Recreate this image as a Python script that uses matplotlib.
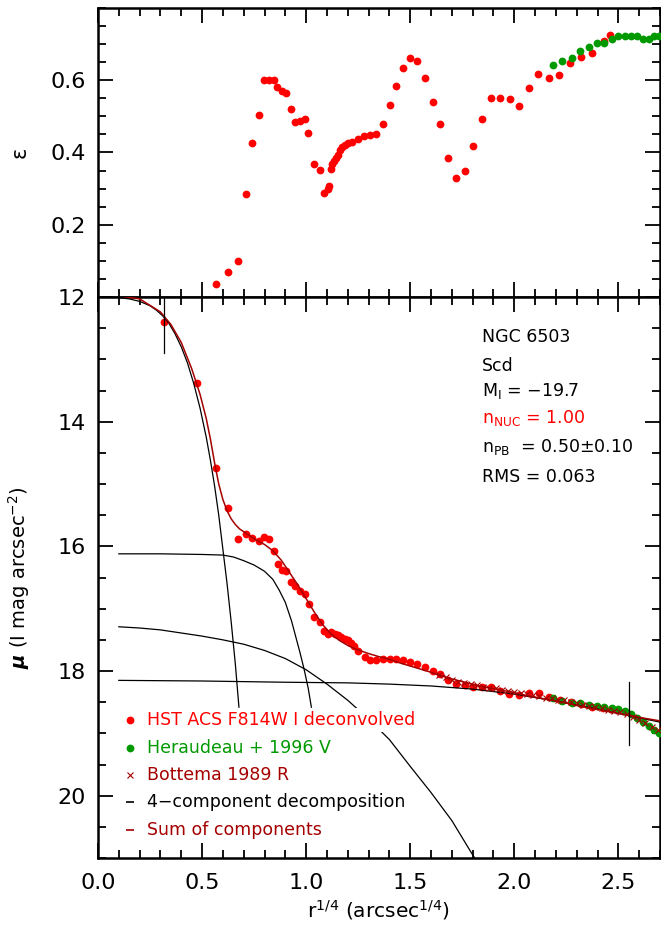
import matplotlib
matplotlib.use('Agg')
import matplotlib.pyplot as plt
from matplotlib.ticker import MultipleLocator, FixedLocator

plt.rcParams['font.family'] = ['DejaVu Sans']
plt.rcParams['mathtext.fontset'] = 'dejavusans'

# ---------------- data ----------------
# Ellipticity (top panel)
eps_hst_x = [0.565, 0.625, 0.673, 0.709, 0.742, 0.773, 0.797, 0.822, 0.845, 0.862,
             0.883, 0.904, 0.926, 0.947, 0.969, 0.993, 1.009, 1.038, 1.065, 1.086,
             1.104, 1.108, 1.118, 1.126, 1.134, 1.145, 1.153, 1.161, 1.172, 1.185,
             1.201, 1.220, 1.249, 1.276, 1.308, 1.337, 1.369, 1.401, 1.432, 1.465,
             1.499, 1.534, 1.571, 1.607, 1.644, 1.683, 1.721, 1.763, 1.803, 1.846,
             1.887, 1.932, 1.977, 2.023, 2.070, 2.116, 2.166, 2.217, 2.268, 2.321,
             2.374, 2.430, 2.460]
eps_hst = [0.036, 0.069, 0.100, 0.286, 0.425, 0.505, 0.600, 0.600, 0.600, 0.582,
           0.571, 0.565, 0.519, 0.485, 0.488, 0.492, 0.454, 0.368, 0.352, 0.289,
           0.300, 0.306, 0.353, 0.367, 0.376, 0.385, 0.394, 0.406, 0.416, 0.422,
           0.425, 0.429, 0.436, 0.447, 0.448, 0.450, 0.478, 0.532, 0.585, 0.635,
           0.662, 0.654, 0.606, 0.541, 0.480, 0.384, 0.330, 0.349, 0.418, 0.494,
           0.552, 0.551, 0.549, 0.528, 0.578, 0.617, 0.606, 0.615, 0.648, 0.663,
           0.676, 0.708, 0.726]
eps_her_x = [2.187, 2.231, 2.278, 2.318, 2.358, 2.396, 2.433, 2.468, 2.498, 2.530,
             2.561, 2.590, 2.620, 2.646, 2.671, 2.693]
eps_her = [0.641, 0.652, 0.662, 0.682, 0.692, 0.703, 0.702, 0.713, 0.722, 0.722,
           0.722, 0.722, 0.713, 0.713, 0.722, 0.722]

# Surface brightness (bottom panel)
mu_hst_x = [0.318, 0.477, 0.565, 0.625, 0.673, 0.709, 0.742, 0.771, 0.797, 0.822,
            0.845, 0.865, 0.886, 0.905, 0.926, 0.947, 0.969, 0.993, 1.012, 1.040,
            1.067, 1.088, 1.105, 1.121, 1.137, 1.153, 1.169, 1.185, 1.201, 1.217,
            1.230, 1.249, 1.281, 1.305, 1.337, 1.369, 1.401, 1.433, 1.465, 1.499,
            1.534, 1.571, 1.607, 1.644, 1.681, 1.721, 1.761, 1.801, 1.843, 1.886,
            1.930, 1.975, 2.022, 2.069, 2.117, 2.166, 2.218, 2.270, 2.321, 2.374,
            2.428, 2.463]
mu_hst = [12.40, 13.38, 14.74, 15.39, 15.88, 15.80, 15.87, 15.92, 15.85, 15.89,
          16.07, 16.28, 16.38, 16.40, 16.57, 16.64, 16.72, 16.77, 16.92, 17.13,
          17.22, 17.35, 17.40, 17.38, 17.41, 17.43, 17.45, 17.48, 17.51, 17.55,
          17.60, 17.68, 17.78, 17.83, 17.83, 17.81, 17.80, 17.81, 17.82, 17.85,
          17.89, 17.94, 18.00, 18.05, 18.15, 18.21, 18.23, 18.25, 18.25, 18.25,
          18.32, 18.37, 18.39, 18.35, 18.36, 18.42, 18.46, 18.49, 18.53, 18.58,
          18.59, 18.61]
mu_her_x = [2.187, 2.231, 2.278, 2.318, 2.358, 2.396, 2.433, 2.468, 2.498, 2.530,
            2.561, 2.590, 2.620, 2.646, 2.671, 2.693]
mu_her = [18.44, 18.48, 18.51, 18.52, 18.54, 18.56, 18.58, 18.60, 18.61, 18.64,
          18.69, 18.76, 18.82, 18.88, 18.94, 18.99]
mu_bot_x = [1.64, 1.67, 1.70, 1.73, 1.76, 1.79, 1.82, 1.85, 1.88, 1.91, 1.94, 1.97,
            2.00, 2.03, 2.06, 2.09, 2.12, 2.15, 2.18, 2.21, 2.24, 2.27, 2.30, 2.33,
            2.36, 2.39, 2.42, 2.45, 2.48, 2.51, 2.54, 2.57, 2.60, 2.63, 2.66, 2.69]
mu_bot = [18.06, 18.10, 18.14, 18.17, 18.19, 18.21, 18.23, 18.25, 18.27, 18.28,
          18.30, 18.32, 18.34, 18.35, 18.37, 18.39, 18.40, 18.43, 18.44, 18.46,
          18.47, 18.49, 18.52, 18.54, 18.56, 18.58, 18.60, 18.62, 18.64, 18.66,
          18.69, 18.73, 18.78, 18.83, 18.89, 18.95]

# Model components
nuc_x = [0.10, 0.15, 0.20, 0.25, 0.28, 0.31, 0.34, 0.37, 0.40, 0.43, 0.46, 0.49,
         0.52, 0.54, 0.56, 0.58, 0.60, 0.62, 0.64, 0.66, 0.677]
nuc_mu = [12.01, 12.03, 12.07, 12.14, 12.21, 12.30, 12.42, 12.59, 12.80, 13.06,
          13.39, 13.78, 14.25, 14.62, 15.03, 15.50, 16.05, 16.60, 17.22, 17.90, 18.58]
bar_x = [0.10, 0.30, 0.50, 0.60, 0.65, 0.70, 0.75, 0.80, 0.84, 0.87, 0.90, 0.93,
         0.95, 0.97, 0.99, 1.01, 1.025]
bar_mu = [16.12, 16.12, 16.13, 16.14, 16.17, 16.23, 16.30, 16.40, 16.53, 16.70,
          16.90, 17.20, 17.45, 17.70, 17.97, 18.28, 18.58]
pb_x = [0.10, 0.20, 0.30, 0.40, 0.50, 0.60, 0.70, 0.80, 0.90, 1.00, 1.10, 1.20,
        1.30, 1.40, 1.50, 1.60, 1.70, 1.80, 1.82]
pb_mu = [17.29, 17.31, 17.34, 17.39, 17.44, 17.50, 17.57, 17.67, 17.80, 17.98,
         18.21, 18.47, 18.77, 19.10, 19.53, 19.95, 20.40, 20.95, 21.05]
disk_x = [0.10, 0.50, 0.90, 1.20, 1.40, 1.60, 1.80, 2.00, 2.20, 2.40, 2.60, 2.70]
disk_mu = [18.15, 18.16, 18.18, 18.19, 18.21, 18.24, 18.29, 18.37, 18.48, 18.61,
           18.75, 18.82]
sum_x = [0.10, 0.20, 0.30, 0.35, 0.40, 0.45, 0.49, 0.52, 0.54, 0.56, 0.58, 0.60,
         0.62, 0.64, 0.66, 0.68, 0.72, 0.76, 0.80, 0.84, 0.88, 0.92, 0.96, 1.00,
         1.04, 1.08, 1.12, 1.16, 1.20, 1.24, 1.30, 1.35, 1.40, 1.45, 1.50, 1.55,
         1.60, 1.67, 1.75, 1.83, 1.91, 1.99, 2.07, 2.15, 2.23, 2.31, 2.39, 2.47,
         2.55, 2.63, 2.70]
sum_mu = [11.98, 12.03, 12.24, 12.44, 12.73, 13.15, 13.56, 13.95, 14.28, 14.66,
          15.00, 15.25, 15.43, 15.56, 15.65, 15.72, 15.81, 15.90, 15.97, 16.07,
          16.22, 16.42, 16.62, 16.84, 17.06, 17.26, 17.41, 17.51, 17.59, 17.65,
          17.72, 17.77, 17.81, 17.87, 17.92, 17.97, 18.02, 18.10, 18.17, 18.24,
          18.29, 18.34, 18.40, 18.45, 18.50, 18.56, 18.61, 18.66, 18.71, 18.76, 18.80]
fit_x = [0.318, 2.549]
fit_mu = [12.40, 18.68]

legend_labels = ['HST ACS F814W I deconvolved', 'Heraudeau + 1996 V',
                 'Bottema 1989 R', '4\u2212component decomposition',
                 'Sum of components']
info_lines = ['NGC 6503', 'Scd', 'M$_{\\rm I}$ = \u221219.7',
              'n$_{\\rm NUC}$ = 1.00', 'n$_{\\rm PB}$  = 0.50\u00b10.10',
              'RMS = 0.063']

RED = '#ff0000'
GREEN = '#009900'
DRED = '#a50000'

fig = plt.figure(figsize=(6.61, 9.27), dpi=100)
ax1 = fig.add_axes([0.1483, 0.6796, 0.8502, 0.3118])
ax2 = fig.add_axes([0.1483, 0.0744, 0.8502, 0.6052])

ms = 5.6
# ---- top panel ----
ax1.plot(eps_hst_x, eps_hst, 'o', color=RED, ms=ms, mew=0, zorder=3)
ax1.plot(eps_her_x, eps_her, 'o', color=GREEN, ms=ms, mew=0, zorder=3)
ax1.set_xlim(0, 2.7)
ax1.set_ylim(0, 0.8)
ax1.yaxis.set_major_locator(FixedLocator([0.2, 0.4, 0.6]))
ax1.yaxis.set_minor_locator(MultipleLocator(0.05))
ax1.set_ylabel('\u03b5', fontsize=15)
ax1.yaxis.set_label_coords(-0.122, 0.5)
ax1.tick_params(labelbottom=False)

# ---- bottom panel ----
ax2.plot(mu_hst_x, mu_hst, 'o', color=RED, ms=ms, mew=0, zorder=3)
ax2.plot(mu_her_x, mu_her, 'o', color=GREEN, ms=ms, mew=0, zorder=3)
for cx, cy in [(nuc_x, nuc_mu), (bar_x, bar_mu), (pb_x, pb_mu), (disk_x, disk_mu)]:
    ax2.plot(cx, cy, '-', color='black', lw=0.9, zorder=4)
ax2.plot(sum_x, sum_mu, '-', color=DRED, lw=1.1, zorder=5)
ax2.plot(mu_bot_x, mu_bot, 'x', color=DRED, ms=4, mew=0.8, zorder=6)
for fx, fm in zip(fit_x, fit_mu):
    ax2.plot([fx, fx], [fm - 0.5, fm + 0.5], '-', color='black', lw=0.9, zorder=6)

ax2.set_xlim(0, 2.7)
ax2.set_ylim(21, 12)
ax2.yaxis.set_major_locator(MultipleLocator(2))
ax2.yaxis.set_minor_locator(MultipleLocator(0.5))
ax2.set_xlabel(r'r$^{1/4}$ (arcsec$^{1/4}$)', fontsize=14.5)
ax2.xaxis.set_label_coords(0.5, -0.071)
ax2.set_ylabel(r'$\boldsymbol{\mu}$ (I mag arcsec$^{-2}$)', fontsize=14)
ax2.yaxis.set_label_coords(-0.117, 0.5)

for ax in (ax1, ax2):
    ax.xaxis.set_major_locator(MultipleLocator(0.5))
    ax.xaxis.set_minor_locator(MultipleLocator(0.1))
    ax.tick_params(which='both', direction='in', top=True, right=True,
                   width=1.3, labelsize=16)
    ax.tick_params(which='major', length=11)
    ax.tick_params(which='minor', length=5.5)
    ax.tick_params(axis='y', pad=9)
    ax.tick_params(axis='x', pad=11)
    for s in ax.spines.values():
        s.set_linewidth(1.8)

# legend (manual)
leg_styles = [dict(marker='o', color=RED, ms=ms, mew=0),
              dict(marker='o', color=GREEN, ms=ms, mew=0),
              dict(marker='x', color=DRED, ms=4, mew=0.8),
              dict(marker='_', color='black', ms=6, mew=1.2),
              dict(marker='_', color=DRED, ms=6, mew=1.2)]
leg_colors = [RED, GREEN, DRED, 'black', DRED]
y0 = 0.246
dy = 0.049
for i, (lab, st, col) in enumerate(zip(legend_labels, leg_styles, leg_colors)):
    yy = y0 - i * dy
    ax2.plot([0.057], [yy], ls='none', transform=ax2.transAxes, zorder=8, **st)
    ax2.text(0.087, yy, lab, color=col, fontsize=12.5, va='center', ha='left',
             transform=ax2.transAxes, zorder=7,
             bbox=dict(facecolor='white', edgecolor='none', pad=2.5))

info_y = [0.928, 0.877, 0.832, 0.784, 0.733, 0.679]
info_c = ['black', 'black', 'black', RED, 'black', 'black']
for t, yy, c in zip(info_lines, info_y, info_c):
    ax2.text(0.683, yy, t, color=c, fontsize=12.5, va='center', ha='left',
             transform=ax2.transAxes)

fig.savefig('out.png', dpi=100)
